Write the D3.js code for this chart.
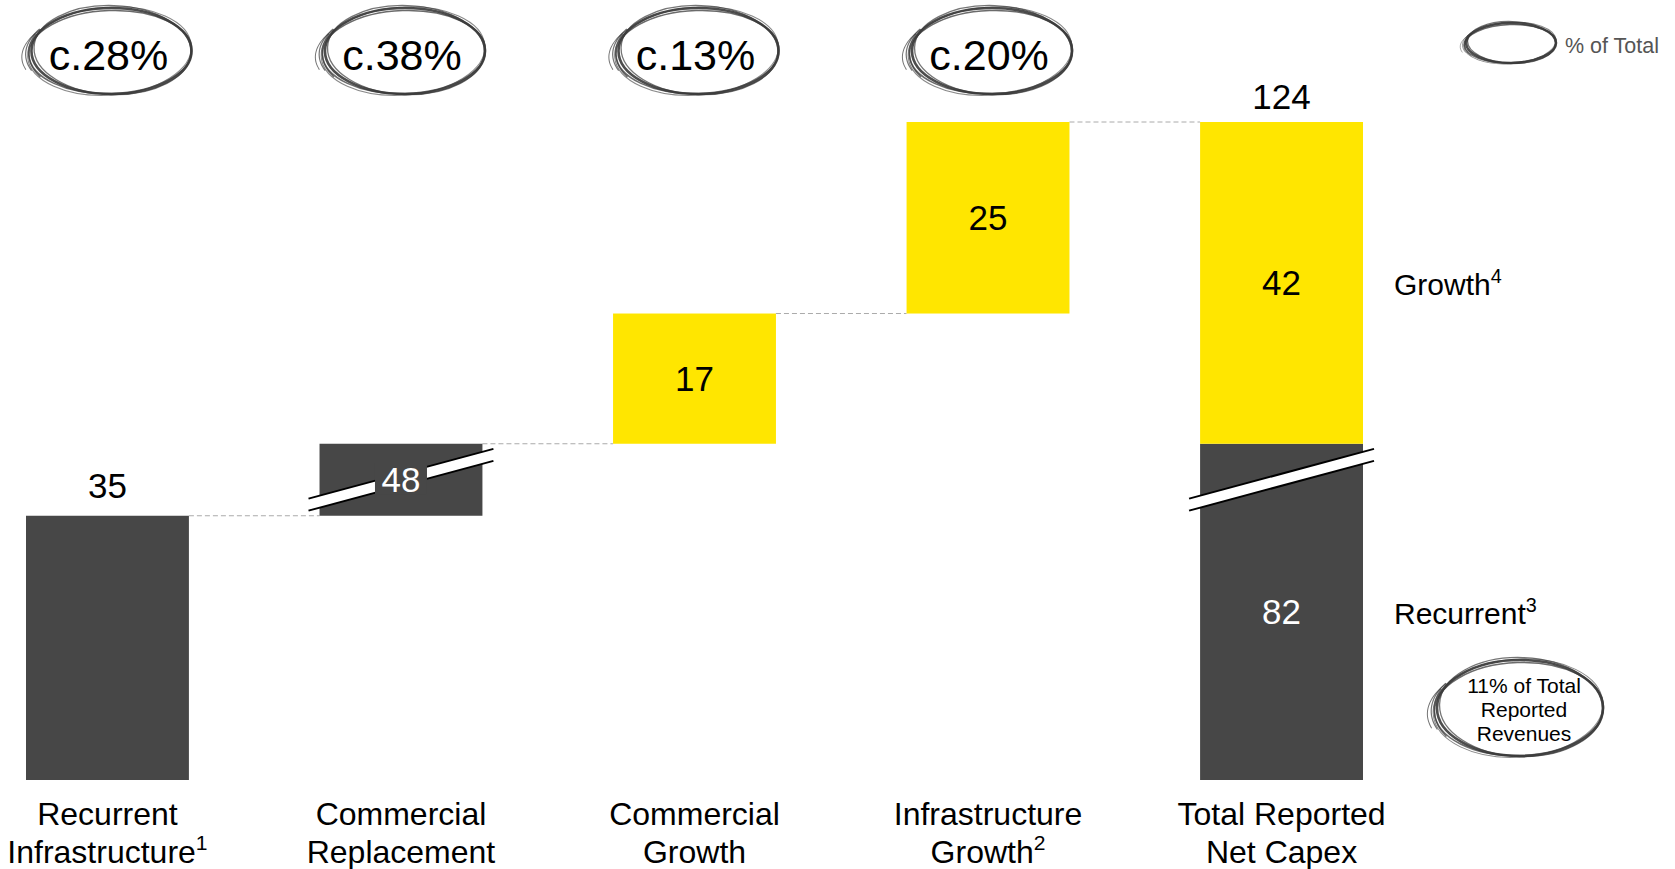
<!DOCTYPE html>
<html>
<head>
<meta charset="utf-8">
<script src="https://cdn.jsdelivr.net/npm/d3@7"></script>
<style>
body { margin: 0; background: #fff; }
svg { display: block; font-family: "Liberation Sans", Arial, sans-serif; }
</style>
</head>
<body>
<svg id="chart"></svg>
<script>
// chart data
const categories = ["Recurrent|Infrastructure^1", "Commercial|Replacement", "Commercial|Growth", "Infrastructure|Growth^2", "Total Reported|Net Capex"];
const stepValues = [35, 48, 17, 25];
const stepTypes = ["recurrent", "recurrent", "growth", "growth"];
const shareLabels = ["c.28%", "c.38%", "c.13%", "c.20%"];
const totalParts = [82, 42];
const totalPartNames = ["Recurrent^3", "Growth^4"];
const totalValue = 124;
const legendText = "% of Total";
const noteLines = ["11% of Total", "Reported", "Revenues"];

const svgWidth = 1675, svgHeight = 869;
const plotTop = 122, plotBottom = 780;
const unitPx = 7.55, breakPx = 72;
const darkColor = "#474747", yellowColor = "#ffe600";

const chart = d3.select("#chart")
    .attr("width", svgWidth)
    .attr("height", svgHeight);

// running totals for the waterfall
let running = 0;
const steps = stepValues.map(function(v, i) {
    const s = {start: running, end: running + v, value: v, type: stepTypes[i], cat: categories[i]};
    running += v;
    return s;
});
const topValue = running;
const brokenStep = steps[1];   // this bar is drawn with an axis break

// broken y scale: the break squeezes the 2nd bar into breakPx pixels
const yScale = d3.scaleLinear()
    .domain([0, brokenStep.start, brokenStep.end, topValue])
    .range([plotBottom, plotBottom - brokenStep.start * unitPx, plotBottom - brokenStep.start * unitPx - breakPx, plotTop]);

const xScale = d3.scaleBand()
    .domain(categories)
    .range([26, 1363])
    .paddingInner(0.445)
    .paddingOuter(0);
const bw = xScale.bandwidth();
const cx = function(c) { return xScale(c) + bw / 2; };

function fillFor(type) { return type == "growth" ? yellowColor : darkColor; }

// text with optional superscript "^"
function richText(sel, str) {
    const parts = str.split("^");
    sel.append("tspan").text(parts[0]);
    if (parts[1]) {
        sel.append("tspan").attr("font-size", "0.66em").attr("dy", "-0.6em").text(parts[1]);
    }
}

// hand drawn looking ellipse
const sketchPasses = [
    {dx: 0, dy: 0, drx: 0, dry: 0, rot: 0, w: 2.6, op: 0.9},
    {dx: -1, dy: 1, drx: 1.5, dry: -1.5, rot: -2, w: 1.5, op: 0.75},
    {dx: 1, dy: -1, drx: -1.5, dry: 1.5, rot: 2, w: 1.3, op: 0.7},
    {dx: -2, dy: 0, drx: 2, dry: 1, rot: -4, w: 1, op: 0.6}
];
// short strokes on the left side that stick out
const tailPasses = [
    {a0: 160, a1: 215, drx: 6, dry: 2, rot: -3, w: 1.2},
    {a0: 165, a1: 220, drx: 10, dry: 0, rot: -5, w: 1},
    {a0: 150, a1: 205, drx: 3, dry: 4, rot: -2, w: 1.4}
];
function sketchEllipse(x, y, rx, ry, scale) {
    const g = chart.append("g");
    sketchPasses.forEach(function(p) {
        g.append("ellipse")
            .attr("cx", x + p.dx * scale)
            .attr("cy", y + p.dy * scale)
            .attr("rx", rx + p.drx * scale)
            .attr("ry", ry + p.dry * scale)
            .attr("transform", "rotate(" + p.rot + "," + x + "," + y + ")")
            .attr("fill", "none")
            .attr("stroke", "#3a3a3a")
            .attr("stroke-width", p.w)
            .attr("stroke-opacity", p.op);
    });
    const arc = d3.line().curve(d3.curveBasis);
    tailPasses.forEach(function(t) {
        const pts = d3.range(t.a0, t.a1 + 1, 5).map(function(a) {
            const r = a * Math.PI / 180;
            return [x + (rx + t.drx * scale) * Math.cos(r), y + (ry + t.dry * scale) * Math.sin(r)];
        });
        g.append("path")
            .attr("d", arc(pts))
            .attr("transform", "rotate(" + t.rot + "," + x + "," + y + ")")
            .attr("fill", "none")
            .attr("stroke", "#3a3a3a")
            .attr("stroke-width", t.w * scale)
            .attr("stroke-opacity", 0.7);
    });
}

// connectors
const totalCat = categories[4];
const connectorEnds = steps.map(function(s) { return s.end; });
chart.selectAll(".conn")
    .data(connectorEnds)
    .enter().append("line")
    .attr("x1", function(d, i) { return xScale(categories[i]) + bw; })
    .attr("x2", function(d, i) { return xScale(categories[i + 1]); })
    .attr("y1", function(d) { return yScale(d); })
    .attr("y2", function(d) { return yScale(d); })
    .attr("stroke", "#aaa")
    .attr("stroke-width", 1)
    .attr("stroke-dasharray", "5,3");

// step bars
chart.selectAll(".step")
    .data(steps)
    .enter().append("rect")
    .attr("x", function(d) { return xScale(d.cat); })
    .attr("width", bw)
    .attr("y", function(d) { return yScale(d.end); })
    .attr("height", function(d) { return yScale(d.start) - yScale(d.end); })
    .attr("fill", function(d) { return fillFor(d.type); });

// total bar, stacked
const recurrentEnd = d3.max(steps.filter(function(s) { return s.type == "recurrent"; }), function(s) { return s.end; });
const totalSegs = [
    {start: 0, end: recurrentEnd, type: "recurrent", value: totalParts[0], name: totalPartNames[0]},
    {start: recurrentEnd, end: topValue, type: "growth", value: totalParts[1], name: totalPartNames[1]}
];
chart.selectAll(".tot")
    .data(totalSegs)
    .enter().append("rect")
    .attr("x", xScale(totalCat))
    .attr("width", bw)
    .attr("y", function(d) { return yScale(d.end); })
    .attr("height", function(d) { return yScale(d.start) - yScale(d.end); })
    .attr("fill", function(d) { return fillFor(d.type); });

// axis break marks
const breakY = yScale((brokenStep.start + brokenStep.end) / 2);
const slope = 50 / 186, halfBand = 6, over = 11;
function breakMark(cat) {
    const x0 = xScale(cat) - over, x1 = xScale(cat) + bw + over, mid = cx(cat);
    const yAt = function(x, off) { return breakY - (x - mid) * slope + off; };
    chart.append("polygon")
        .attr("points", [[x0, yAt(x0, -halfBand)], [x1, yAt(x1, -halfBand)], [x1, yAt(x1, halfBand)], [x0, yAt(x0, halfBand)]].join(" "))
        .attr("fill", "#fff");
    [-halfBand, halfBand].forEach(function(off) {
        chart.append("line")
            .attr("x1", x0).attr("y1", yAt(x0, off))
            .attr("x2", x1).attr("y2", yAt(x1, off))
            .attr("stroke", "#000").attr("stroke-width", 2);
    });
}
breakMark(brokenStep.cat);
breakMark(totalCat);

// step value labels
steps.forEach(function(s, i) {
    if (i == 0) {
        chart.append("text")
            .attr("x", cx(s.cat)).attr("y", yScale(s.end) - 18)
            .attr("text-anchor", "middle").attr("font-size", 35).attr("fill", "#000")
            .text(s.value);
        return;
    }
    const yMid = (yScale(s.start) + yScale(s.end)) / 2;
    const dark = s.type != "growth";
    if (s === brokenStep) {
        chart.append("rect")
            .attr("x", cx(s.cat) - 26).attr("y", yMid - 16)
            .attr("width", 52).attr("height", 31)
            .attr("fill", darkColor);
    }
    chart.append("text")
        .attr("x", cx(s.cat)).attr("y", yMid + 12.5)
        .attr("text-anchor", "middle").attr("font-size", 35)
        .attr("fill", dark ? "#fff" : "#000")
        .text(s.value);
});

// total labels
chart.append("text")
    .attr("x", cx(totalCat)).attr("y", yScale(topValue) - 13)
    .attr("text-anchor", "middle").attr("font-size", 35).attr("fill", "#000")
    .text(totalValue);
totalSegs.forEach(function(s) {
    const yMid = (yScale(s.start) + yScale(s.end)) / 2;
    chart.append("text")
        .attr("x", cx(totalCat)).attr("y", yMid + 12.5)
        .attr("text-anchor", "middle").attr("font-size", 35)
        .attr("fill", s.type == "growth" ? "#000" : "#fff")
        .text(s.value);
    chart.append("text")
        .attr("x", xScale(totalCat) + bw + 31).attr("y", yMid + 12)
        .attr("font-size", 30).attr("fill", "#000")
        .call(richText, s.name);
});

// category labels
categories.forEach(function(c) {
    c.split("|").forEach(function(line, j) {
        chart.append("text")
            .attr("x", cx(c)).attr("y", 825 + j * 38)
            .attr("text-anchor", "middle").attr("font-size", 32).attr("fill", "#000")
            .call(richText, line);
    });
});

// share ellipses on top
shareLabels.forEach(function(lab, i) {
    const c = categories[i];
    sketchEllipse(cx(c) + 4, 51, 80, 43, 1);
    chart.append("text")
        .attr("x", cx(c) + 1).attr("y", 70)
        .attr("text-anchor", "middle").attr("font-size", 43).attr("fill", "#000")
        .text(lab);
});

// legend
sketchEllipse(1511, 43, 45, 20, 0.6);
chart.append("text")
    .attr("x", 1565).attr("y", 53)
    .attr("font-size", 21.5).attr("fill", "#555")
    .text(legendText);

// revenue note
sketchEllipse(1520, 708, 83, 48, 1);
noteLines.forEach(function(line, j) {
    chart.append("text")
        .attr("x", 1524).attr("y", 693 + j * 24)
        .attr("text-anchor", "middle").attr("font-size", 21).attr("fill", "#000")
        .text(line);
});
</script>
</body>
</html>
